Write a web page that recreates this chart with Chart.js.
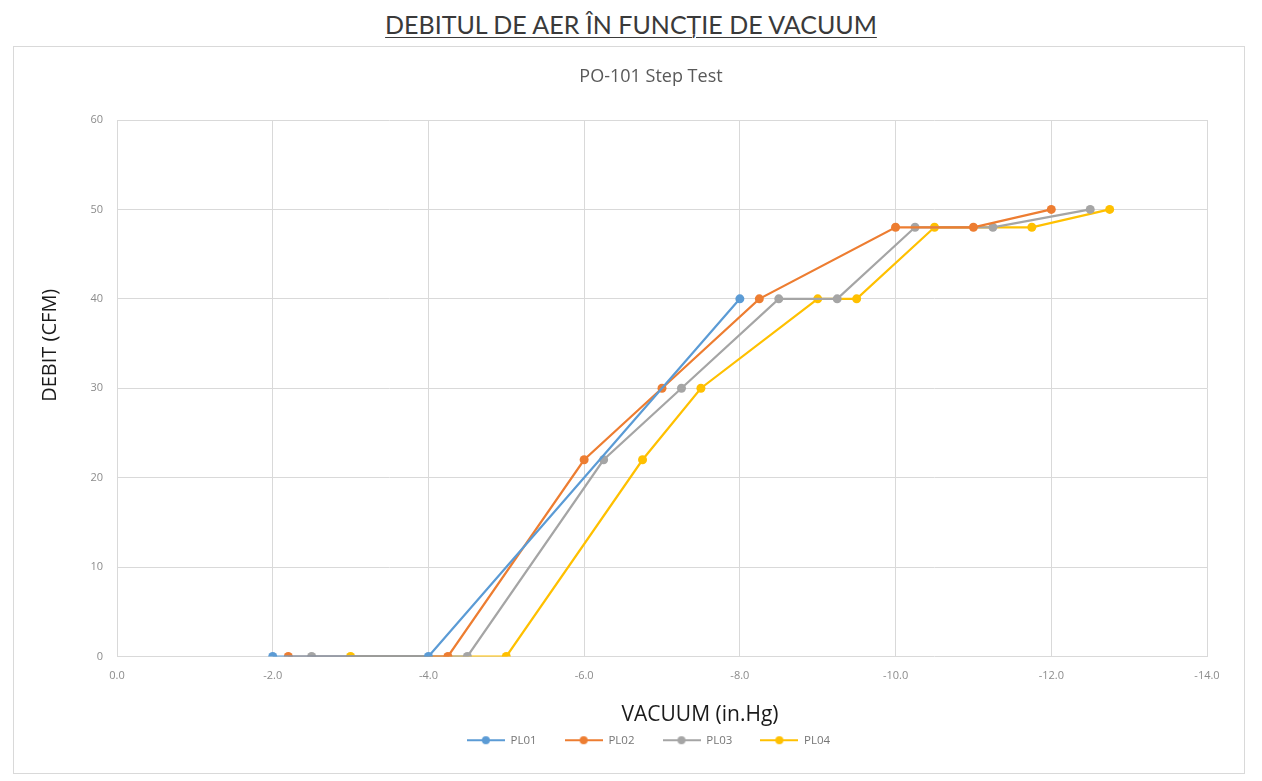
<!DOCTYPE html>
<html>
<head>
<meta charset="utf-8">
<script src="https://cdn.jsdelivr.net/npm/chart.js@4"></script>
<style>
  body { margin: 0; background: #fff; }
  #heading {
    position: absolute; left: 0; top: 9px; width: 1262px; text-align: center;
    font-family: "Lato", sans-serif; font-size: 25px; line-height: 30px; color: #3a3a3a;
    text-decoration: underline; text-decoration-thickness: 1px; text-underline-offset: 3px;
  }
  #box {
    position: absolute; left: 13px; top: 46px; width: 1230px; height: 726px;
    border: 1px solid #d9d9d9;
  }
</style>
</head>
<body>
<div id="heading">DEBITUL DE AER ÎN FUNCȚIE DE VACUUM</div>
<div id="box"><canvas id="chart" width="1230" height="726"></canvas></div>
<script>
const chartTitle = 'PO-101 Step Test';
const xTitle = 'VACUUM (in.Hg)';
const yTitle = 'DEBIT (CFM)';

const seriesNames = ['PL01', 'PL02', 'PL03', 'PL04'];
const seriesColors = ['#5B9BD5', '#ED7D31', '#A5A5A5', '#FFC000'];

// vacuum (in.Hg) and debit (CFM) for each series
const pl01X = [-2.0, -4.0, -8.0];
const pl01Y = [0, 0, 40];
const pl02X = [-2.2, -4.25, -6.0, -7.0, -8.25, -10.0, -11.0, -12.0];
const pl02Y = [0, 0, 22, 30, 40, 48, 48, 50];
const pl03X = [-2.5, -4.5, -6.25, -7.25, -8.5, -9.25, -10.25, -11.25, -12.5];
const pl03Y = [0, 0, 22, 30, 40, 40, 48, 48, 50];
const pl04X = [-3.0, -5.0, -6.75, -7.5, -9.0, -9.5, -10.5, -11.75, -12.75];
const pl04Y = [0, 0, 22, 30, 40, 40, 48, 48, 50];

const allX = [pl01X, pl02X, pl03X, pl04X];
const allY = [pl01Y, pl02Y, pl03Y, pl04Y];

function toPoints(xs, ys) {
    return xs.map((x, i) => ({ x: x, y: ys[i] }));
}

// legend icon: short line with a dot in the middle
function legendIcon(color) {
    const c = document.createElement('canvas');
    c.width = 38; c.height = 10;
    const g = c.getContext('2d');
    g.strokeStyle = color;
    g.lineWidth = 2;
    g.beginPath(); g.moveTo(0, 5); g.lineTo(38, 5); g.stroke();
    g.fillStyle = color;
    g.beginPath(); g.arc(19, 5, 4, 0, Math.PI * 2); g.fill();
    return c;
}

// titles placed like in the Excel original (not centred on the canvas)
const excelTitles = {
    id: 'excelTitles',
    afterLayout(chart) {
        chart.legend.left += 38;
        chart.legend.right += 38;
    },
    afterDraw(chart) {
        const ctx = chart.ctx;
        const a = chart.chartArea;
        const cx = (a.left + a.right) / 2;
        const cy = (a.top + a.bottom) / 2;
        ctx.save();
        ctx.textAlign = 'center';
        ctx.textBaseline = 'middle';

        ctx.fillStyle = '#595959';
        ctx.font = '18px "Open Sans"';
        ctx.fillText(chartTitle, cx - 11, a.top - 43);

        ctx.fillStyle = '#1a1a1a';
        ctx.font = '21px "Open Sans"';
        ctx.fillText(xTitle, cx + 38, a.bottom + 59);

        ctx.font = '20px "Open Sans"';
        ctx.translate(a.left - 67, cy - 43);
        ctx.rotate(-Math.PI / 2);
        ctx.fillText(yTitle, 0, 0);
        ctx.restore();
    }
};

const datasets = seriesNames.map((name, i) => ({
    label: name,
    data: toPoints(allX[i], allY[i]),
    borderColor: seriesColors[i],
    backgroundColor: seriesColors[i],
    borderWidth: 2.2,
    pointRadius: 4.5,
    pointHoverRadius: 5,
    pointBorderWidth: 0,
    tension: 0
}));

new Chart(document.getElementById('chart').getContext('2d'), {
    type: 'line',
    data: { datasets: datasets },
    plugins: [excelTitles],
    options: {
        responsive: false,
        animation: false,
        layout: { padding: { left: 0, right: 37, top: 73, bottom: 17 } },
        plugins: {
            title: { display: false },
            legend: {
                position: 'bottom',
                labels: {
                    usePointStyle: true,
                    pointStyleWidth: 38,
                    color: '#767676',
                    font: { family: 'Open Sans', size: 11.5 },
                    padding: 28,
                    generateLabels: function (chart) {
                        return chart.data.datasets.map((ds, i) => ({
                            text: ds.label,
                            pointStyle: legendIcon(ds.borderColor),
                            fillStyle: ds.borderColor,
                            strokeStyle: ds.borderColor,
                            fontColor: '#767676',
                            lineWidth: 0,
                            datasetIndex: i
                        }));
                    }
                }
            },
            tooltip: { enabled: false }
        },
        scales: {
            x: {
                type: 'linear',
                min: -14,
                max: 0,
                reverse: true,
                afterFit: function (scale) { scale.height = 50; },
                grid: { color: '#d9d9d9', drawTicks: false },
                border: { display: false },
                ticks: {
                    stepSize: 2,
                    padding: 13,
                    color: '#8c8c8c',
                    font: { family: 'Open Sans', size: 11 },
                    callback: function (value) { return value.toFixed(1); }
                }
            },
            y: {
                min: 0,
                max: 60,
                afterFit: function (scale) { scale.width = 103; },
                grid: { color: '#d9d9d9', drawTicks: false },
                border: { display: false },
                ticks: {
                    stepSize: 10,
                    padding: 14,
                    color: '#8c8c8c',
                    font: { family: 'Open Sans', size: 11 }
                }
            }
        }
    }
});
</script>
</body>
</html>
